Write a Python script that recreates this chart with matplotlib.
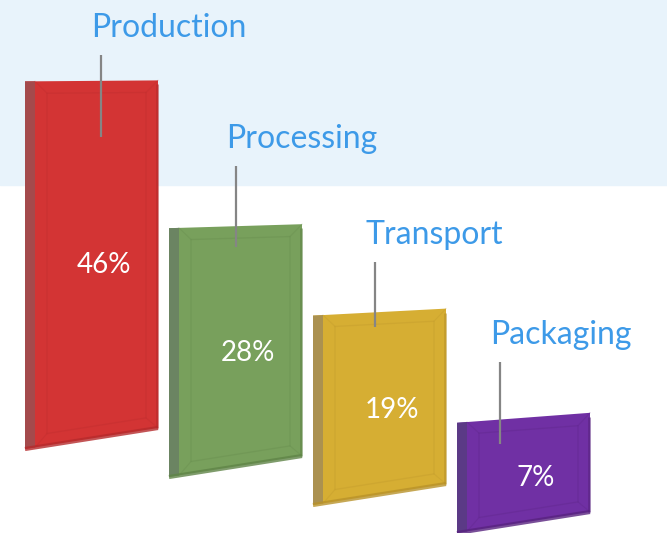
import matplotlib.pyplot as plt
from matplotlib.patches import Polygon

categories = ["Production", "Processing", "Transport", "Packaging"]
shares = [46, 28, 19, 7]
share_labels = ["46%", "28%", "19%", "7%"]

face_colors = ["#d33434", "#78a05c", "#d6ae33", "#7030a4"]
side_colors = ["#a44a4c", "#6b8462", "#ab9150", "#5b3a86"]
edge_colors = ["#b52a2c", "#5f8447", "#b8922a", "#58237f"]
label_color = "#3d9ae8"

# layout (pixels of the 667x533 canvas)
x0, x_step, bar_w = 25, 144, 133
base_y, base_step = 449, 28
h0, h_per_pct = 64, 6.6
bottom_rise = 21
leader_dx = [76, 67, 62, 43]
leader_len_above = [26, 60, 50, 58]
leader_len_below = [56, 21, 15, 24]

plt.rcParams["font.family"] = ["Lato", "DejaVu Sans"]

fig = plt.figure(figsize=(6.67, 5.33), dpi=100)
ax = fig.add_axes([0, 0, 1, 1])
ax.set_xlim(0, 667)
ax.set_ylim(533, 0)
ax.axis("off")
ax.axhspan(0, 185, color="#e8f3fb", zorder=0)

for i, (cat, v, lab) in enumerate(zip(categories, shares, share_labels)):
    xl = x0 + x_step * i
    xr = xl + bar_w
    yb_l = base_y + base_step * i
    yb_r = yb_l - bottom_rise
    yt_l = yb_l - (h0 + h_per_pct * v)
    yt_r = yt_l - (1 + 3 * i)

    def top_at(x):
        return yt_l + (yt_r - yt_l) * (x - xl) / (xr - xl)

    def bot_at(x):
        return yb_l + (yb_r - yb_l) * (x - xl) / (xr - xl)

    # main face
    ax.add_patch(Polygon([(xl, yt_l), (xr, yt_r), (xr, yb_r), (xl, yb_l)],
                         closed=True, fc=face_colors[i], ec="none", zorder=2))
    # darker left side
    sw = 10
    ax.add_patch(Polygon([(xl, yt_l), (xl + sw, top_at(xl + sw)),
                          (xl + sw, bot_at(xl + sw)), (xl, yb_l)],
                         closed=True, fc=side_colors[i], ec="none", zorder=3))
    # soft bevel: inner face outline and corner creases
    ins = 12
    ix_l, ix_r = xl + sw + ins, xr - ins
    inner = [(ix_l, top_at(ix_l) + ins), (ix_r, top_at(ix_r) + ins),
             (ix_r, bot_at(ix_r) - ins), (ix_l, bot_at(ix_l) - ins)]
    ax.add_patch(Polygon(inner, closed=True, fc="none", ec=edge_colors[i],
                         lw=1.0, alpha=0.25, zorder=3))
    outer = [(xl + sw, top_at(xl + sw)), (xr, yt_r), (xr, yb_r), (xl + sw, bot_at(xl + sw))]
    for (a, b) in zip(outer, inner):
        ax.plot([a[0], b[0]], [a[1], b[1]], color=edge_colors[i], lw=0.8,
                alpha=0.25, zorder=3)
    # bottom and right shaded edges
    ax.plot([xl, xr], [yb_l, yb_r], color=edge_colors[i], lw=3, alpha=0.8, zorder=3,
            solid_capstyle="butt")
    ax.plot([xr - 1, xr - 1], [yt_r + 4, yb_r], color=edge_colors[i], lw=2, alpha=0.6,
            zorder=3, solid_capstyle="butt")

    # value label
    cx = (xl + xr) / 2 + 12
    cy = (yt_l + yb_l) / 2
    ax.text(cx, cy, lab, color="white", fontsize=20, ha="center", va="center",
            zorder=5)

    # leader + category label
    lx = xl + leader_dx[i]
    ly_top = top_at(lx) - leader_len_above[i]
    ly_bot = top_at(lx) + leader_len_below[i]
    ax.plot([lx, lx], [ly_top, ly_bot], color="#858585", lw=1.6, zorder=4,
            solid_capstyle="butt")
    ax.text(lx - 10, ly_top - 18, cat, color=label_color, fontsize=23,
            ha="left", va="baseline", zorder=5)

fig.savefig("out.png", dpi=100)
